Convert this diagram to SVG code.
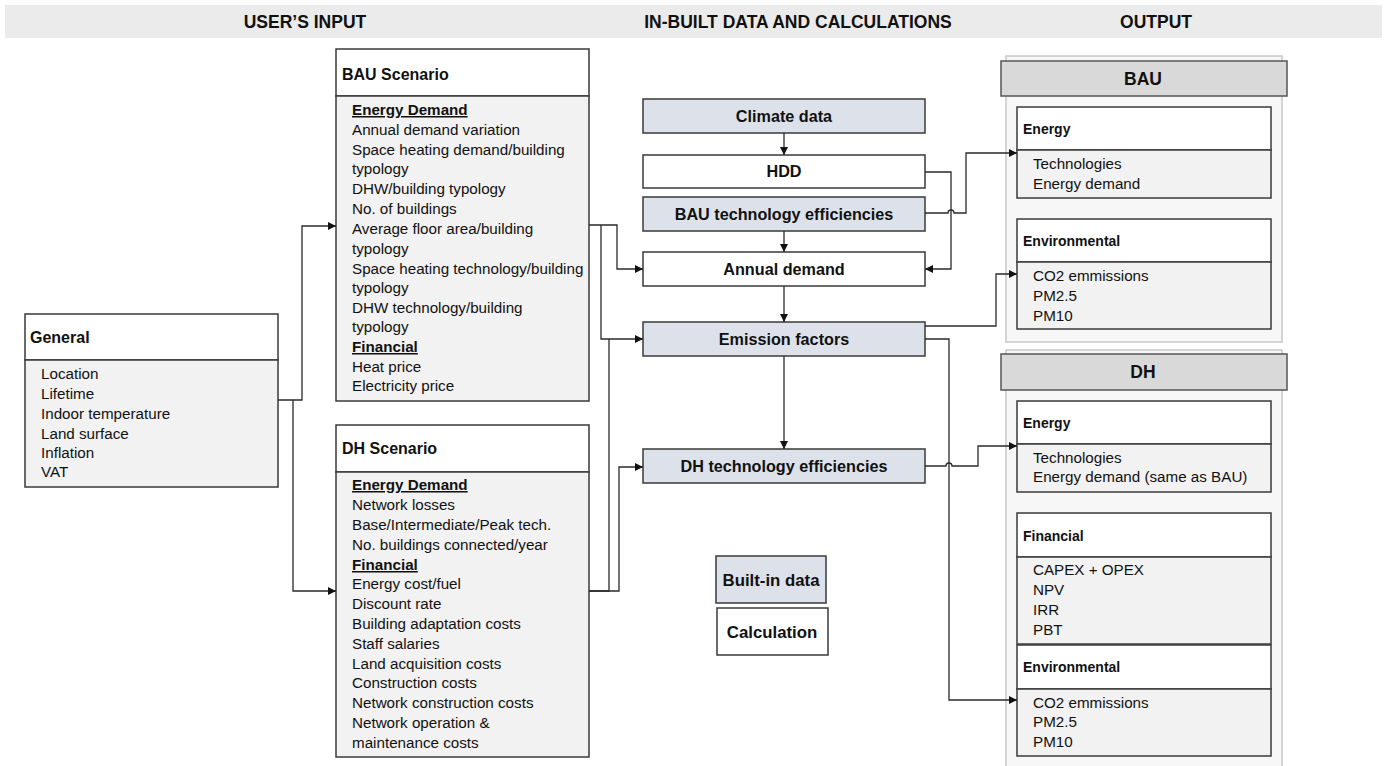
<svg xmlns="http://www.w3.org/2000/svg" width="1387" height="766" viewBox="0 0 1387 766">
<defs>
<marker id="arr" viewBox="0 0 10 10" refX="10" refY="5" markerWidth="10" markerHeight="8" markerUnits="userSpaceOnUse" orient="auto"><path d="M0,0 L10,5 L0,10 z" fill="#111"/></marker>
<style>
text{font-family:"Liberation Sans",Arial,sans-serif;fill:#111}
.hd{font-size:17.5px;font-weight:bold}
.ttl{font-size:16px;font-weight:bold}
.it{font-size:15.2px}
.u{font-weight:bold;text-decoration:underline}
.mid{font-size:16.2px;font-weight:bold;text-anchor:middle}
.big{font-size:17.5px}
.leg{font-size:16.8px}
.sub{font-size:14px;font-weight:bold}
.box{stroke:#3a3a3a;stroke-width:1.5}
.wh{fill:#fff}
.gy{fill:#f2f2f2}
.bl{fill:#dde2ea}
.con{fill:none;stroke:#2a2a2a;stroke-width:1.3}
</style>
</defs>
<rect width="1387" height="766" fill="#fff"/>
<g id="header">
<rect x="5" y="5" width="1377" height="33" fill="#ebebeb"/>
<text class="hd" x="305" y="28" text-anchor="middle">USER’S INPUT</text>
<text class="hd" x="798" y="28" text-anchor="middle">IN-BUILT DATA AND CALCULATIONS</text>
<text class="hd" x="1156" y="28" text-anchor="middle">OUTPUT</text>
</g>
<g id="general">
<rect class="box wh" x="25" y="314" width="253" height="46"/>
<rect class="box gy" x="25" y="360" width="253" height="127"/>
<text class="ttl" x="30" y="343">General</text>
<text class="it" x="41" y="379">Location</text>
<text class="it" x="41" y="399">Lifetime</text>
<text class="it" x="41" y="419">Indoor temperature</text>
<text class="it" x="41" y="439">Land surface</text>
<text class="it" x="41" y="458">Inflation</text>
<text class="it" x="41" y="477">VAT</text>
</g>
<g id="bau-scenario">
<rect class="box wh" x="336" y="49" width="253" height="47"/>
<rect class="box gy" x="336" y="96" width="253" height="305"/>
<text class="ttl" x="342" y="80">BAU Scenario</text>
<text class="it u" x="352" y="115">Energy Demand</text>
<text class="it" x="352" y="135">Annual demand variation</text>
<text class="it" x="352" y="155">Space heating demand/building</text>
<text class="it" x="352" y="174">typology</text>
<text class="it" x="352" y="194">DHW/building typology</text>
<text class="it" x="352" y="214">No. of buildings</text>
<text class="it" x="352" y="234">Average floor area/building</text>
<text class="it" x="352" y="254">typology</text>
<text class="it" x="352" y="274">Space heating technology/building</text>
<text class="it" x="352" y="293">typology</text>
<text class="it" x="352" y="313">DHW technology/building</text>
<text class="it" x="352" y="332">typology</text>
<text class="it u" x="352" y="352">Financial</text>
<text class="it" x="352" y="372">Heat price</text>
<text class="it" x="352" y="391">Electricity price</text>
</g>
<g id="dh-scenario">
<rect class="box wh" x="336" y="425" width="253" height="47"/>
<rect class="box gy" x="336" y="472" width="253" height="285"/>
<text class="ttl" x="342" y="454">DH Scenario</text>
<text class="it u" x="352" y="490">Energy Demand</text>
<text class="it" x="352" y="510">Network losses</text>
<text class="it" x="352" y="530">Base/Intermediate/Peak tech.</text>
<text class="it" x="352" y="550">No. buildings connected/year</text>
<text class="it u" x="352" y="570">Financial</text>
<text class="it" x="352" y="589">Energy cost/fuel</text>
<text class="it" x="352" y="609">Discount rate</text>
<text class="it" x="352" y="629">Building adaptation costs</text>
<text class="it" x="352" y="649">Staff salaries</text>
<text class="it" x="352" y="669">Land acquisition costs</text>
<text class="it" x="352" y="688">Construction costs</text>
<text class="it" x="352" y="708">Network construction costs</text>
<text class="it" x="352" y="728">Network operation &amp;</text>
<text class="it" x="352" y="748">maintenance costs</text>
</g>
<g id="climate-data">
<rect class="box bl" x="643" y="99" width="282" height="34"/>
<text class="mid" x="784" y="122">Climate data</text>
</g>
<g id="hdd">
<rect class="box wh" x="643" y="155" width="282" height="33"/>
<text class="mid" x="784" y="177">HDD</text>
</g>
<g id="bau-tech">
<rect class="box bl" x="643" y="197" width="282" height="34"/>
<text class="mid" x="784" y="220">BAU technology efficiencies</text>
</g>
<g id="annual-demand">
<rect class="box wh" x="643" y="252" width="282" height="34"/>
<text class="mid" x="784" y="275">Annual demand</text>
</g>
<g id="emission-factors">
<rect class="box bl" x="643" y="322" width="282" height="34"/>
<text class="mid" x="784" y="345">Emission factors</text>
</g>
<g id="dh-tech">
<rect class="box bl" x="643" y="449" width="282" height="34"/>
<text class="mid" x="784" y="472">DH technology efficiencies</text>
</g>
<g id="legend-builtin">
<rect class="box bl" x="716" y="556" width="110" height="47"/>
<text class="mid leg" x="771" y="586">Built-in data</text>
</g>
<g id="legend-calc">
<rect class="box wh" x="717" y="608" width="111" height="47"/>
<text class="mid leg" x="772" y="638">Calculation</text>
</g>
<g id="out-bau">
<rect x="1006" y="56" width="276" height="286" fill="#f7f7f7" stroke="#c8c8c8" stroke-width="1.5"/>
<rect x="1001" y="61" width="286" height="35" fill="#d9d9d9" stroke="#555" stroke-width="1.5"/>
<text class="mid big" x="1143" y="85">BAU</text>
<rect class="box wh" x="1017" y="107" width="254" height="43"/>
<rect class="box gy" x="1017" y="150" width="254" height="48"/>
<text class="sub" x="1023" y="134">Energy</text>
<text class="it" x="1033" y="169">Technologies</text>
<text class="it" x="1033" y="189">Energy demand</text>
<rect class="box wh" x="1017" y="219" width="254" height="43"/>
<rect class="box gy" x="1017" y="262" width="254" height="67"/>
<text class="sub" x="1023" y="246">Environmental</text>
<text class="it" x="1033" y="281">CO2 emmissions</text>
<text class="it" x="1033" y="301">PM2.5</text>
<text class="it" x="1033" y="321">PM10</text>
</g>
<g id="out-dh">
<rect x="1006" y="350" width="276" height="420" fill="#f7f7f7" stroke="#c8c8c8" stroke-width="1.5"/>
<rect x="1001" y="354" width="286" height="36" fill="#d9d9d9" stroke="#555" stroke-width="1.5"/>
<text class="mid big" x="1143" y="378">DH</text>
<rect class="box wh" x="1017" y="401" width="254" height="43"/>
<rect class="box gy" x="1017" y="444" width="254" height="48"/>
<text class="sub" x="1023" y="428">Energy</text>
<text class="it" x="1033" y="463">Technologies</text>
<text class="it" x="1033" y="482">Energy demand (same as BAU)</text>
<rect class="box wh" x="1017" y="513" width="254" height="44"/>
<rect class="box gy" x="1017" y="557" width="254" height="87"/>
<text class="sub" x="1023" y="541">Financial</text>
<text class="it" x="1033" y="575">CAPEX + OPEX</text>
<text class="it" x="1033" y="595">NPV</text>
<text class="it" x="1033" y="615">IRR</text>
<text class="it" x="1033" y="635">PBT</text>
<rect class="box wh" x="1017" y="645" width="254" height="44"/>
<rect class="box gy" x="1017" y="689" width="254" height="67"/>
<text class="sub" x="1023" y="672">Environmental</text>
<text class="it" x="1033" y="708">CO2 emmissions</text>
<text class="it" x="1033" y="727">PM2.5</text>
<text class="it" x="1033" y="747">PM10</text>
</g>
<g id="connectors">
<path class="con" d="M278,400 H302 V226 H336" marker-end="url(#arr)"/>
<path class="con" d="M293,400 V591 H336" marker-end="url(#arr)"/>
<path class="con" d="M589,225 H617 V269 H643" marker-end="url(#arr)"/>
<path class="con" d="M601,225 V339 H643" marker-end="url(#arr)"/>
<path class="con" d="M589,591 H609 V339"/>
<path class="con" d="M589,591 H619 V467 H643" marker-end="url(#arr)"/>
<path class="con" d="M784,133 V155" marker-end="url(#arr)"/>
<path class="con" d="M784,231 V252" marker-end="url(#arr)"/>
<path class="con" d="M784,286 V322" marker-end="url(#arr)"/>
<path class="con" d="M784,356 V449" marker-end="url(#arr)"/>
<path class="con" d="M925,172 H951 V269 H925" marker-end="url(#arr)"/>
<path class="con" d="M925,213 H948 a3,3 0 0 1 6,0 H966 V153 H1017" marker-end="url(#arr)"/>
<path class="con" d="M925,326 H996 V274 H1017" marker-end="url(#arr)"/>
<path class="con" d="M925,339 H949 V700 H1017" marker-end="url(#arr)"/>
<path class="con" d="M925,466 H946 a3,3 0 0 1 6,0 H978 V446 H1017" marker-end="url(#arr)"/>
</g>
</svg>
